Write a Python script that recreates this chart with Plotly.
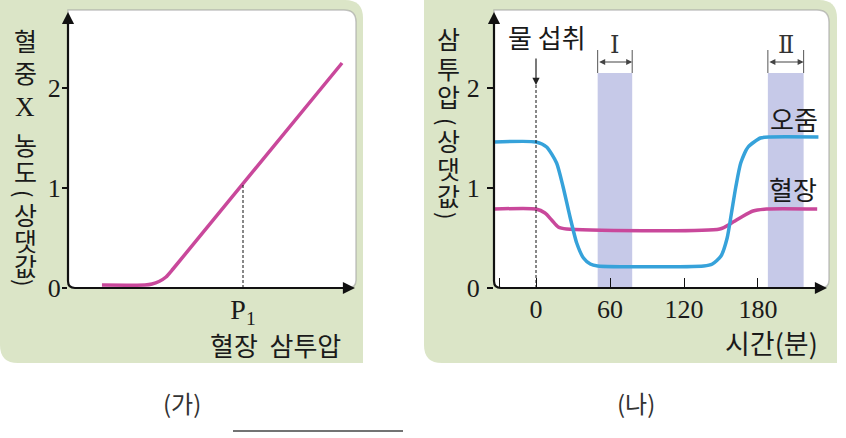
import plotly.graph_objects as go

# ---------------- data ----------------
# (가) blood X concentration vs plasma osmolality (relative units)
left_x = [0.97, 2.2, 2.4, 2.6, 2.8, 3.0, 7.83]
left_y = [0.03, 0.03, 0.04, 0.065, 0.11, 0.19, 2.25]
p1_x = 5
p1_y = 1.04
left_ytick_vals = [0, 1, 2]
left_ytick_text = ["0", "1", "2"]

# (나) osmolality vs time
urine_t = [-34, 0, 8.6, 16.7, 22, 27.6, 33, 38.5, 44, 50, 136, 143, 150, 155, 158.5, 162, 166, 172, 182, 190, 229]
urine_v = [1.46, 1.46, 1.41, 1.25, 1.01, 0.71, 0.45, 0.30, 0.24, 0.22, 0.22, 0.24, 0.32, 0.5, 0.75, 1.01, 1.25, 1.41, 1.50, 1.51, 1.51]
plasma_t = [-34, 0, 7.3, 12.7, 18, 24.8, 149, 158.6, 166.7, 176, 187, 228]
plasma_v = [0.79, 0.79, 0.75, 0.68, 0.61, 0.59, 0.59, 0.65, 0.71, 0.77, 0.79, 0.79]
band_start = [50, 188]
band_end = [78, 217]
band_top = 2.15
band_labels = ["Ⅰ", "Ⅱ"]
right_xtick_vals = [-30, 0, 60, 120, 180]
right_xtick_text = ["", "0", "60", "120", "180"]
right_ytick_vals = [0, 1, 2]
right_ytick_text = ["0", "1", "2"]
water_t = 0

# ---------------- layout helpers ----------------
W, H = 846, 438
def px(x):
    return x / W
def py(y):
    return 1 - y / H

def rrect(x0, y0, x1, y1, tl, tr, br, bl):
    def p(x, y):
        return f"{px(x):.5f},{py(y):.5f}"
    return (f"M {p(x0+tl, y0)} L {p(x1-tr, y0)} Q {p(x1, y0)} {p(x1, y0+tr)} "
            f"L {p(x1, y1-br)} Q {p(x1, y1)} {p(x1-br, y1)} L {p(x0+bl, y1)} "
            f"Q {p(x0, y1)} {p(x0, y1-bl)} L {p(x0, y0+tl)} Q {p(x0, y0)} {p(x0+tl, y0)} Z")

def axis_path(x0, ytop, y0, xend, r):
    def p(x, y):
        return f"{px(x):.5f},{py(y):.5f}"
    return f"M {p(x0, ytop)} L {p(x0, y0-r)} Q {p(x0, y0)} {p(x0+r, y0)} L {p(xend, y0)}"

GREEN = "#dbe5c7"
MAGENTA = "#c9489b"
BLUE = "#36a2da"
BAND = "#c6c9e8"
KFONT = "Noto Sans CJK KR"
SFONT = "Liberation Serif"

fig = go.Figure()

fig.add_trace(go.Scatter(x=left_x, y=left_y, mode="lines", xaxis="x", yaxis="y",
                         line=dict(color=MAGENTA, width=3.5, shape="spline", smoothing=0.5),
                         hoverinfo="skip", showlegend=False))
fig.add_trace(go.Scatter(x=plasma_t, y=plasma_v, mode="lines", xaxis="x2", yaxis="y2",
                         line=dict(color=MAGENTA, width=3.5, shape="spline", smoothing=0.6),
                         hoverinfo="skip", showlegend=False))
fig.add_trace(go.Scatter(x=urine_t, y=urine_v, mode="lines", xaxis="x2", yaxis="y2",
                         line=dict(color=BLUE, width=3.5, shape="spline", smoothing=0.6),
                         hoverinfo="skip", showlegend=False))

shapes = []
# green panels
shapes.append(dict(type="path", xref="paper", yref="paper", layer="below",
                   path=rrect(0, 0, 363, 363, 0, 18, 0, 18), fillcolor=GREEN, line=dict(width=0)))
shapes.append(dict(type="path", xref="paper", yref="paper", layer="below",
                   path=rrect(424, 0, 837, 363, 0, 18, 0, 18), fillcolor=GREEN, line=dict(width=0)))
# white plot areas (with soft shadow edge)
shapes.append(dict(type="path", xref="paper", yref="paper", layer="below",
                   path=rrect(68, 10, 356, 288, 0, 12, 8, 8), fillcolor="white",
                   line=dict(color="rgba(160,160,160,0.6)", width=1.5)))
shapes.append(dict(type="path", xref="paper", yref="paper", layer="below",
                   path=rrect(494, 10, 829, 288, 0, 12, 8, 8), fillcolor="white",
                   line=dict(color="rgba(160,160,160,0.6)", width=1.5)))
# bands
for s, e in zip(band_start, band_end):
    shapes.append(dict(type="rect", xref="x2", yref="y2", layer="below",
                       x0=s, x1=e, y0=0, y1=band_top, fillcolor=BAND, line=dict(width=0)))
    for xv in (s, e):
        shapes.append(dict(type="line", xref="x2", yref="y2", x0=xv, x1=xv,
                           y0=band_top, y1=2.38, line=dict(color="#555", width=1)))
# axes lines
shapes.append(dict(type="path", xref="paper", yref="paper",
                   path=axis_path(68, 20, 288, 346, 7), line=dict(color="#111", width=2.2)))
shapes.append(dict(type="path", xref="paper", yref="paper",
                   path=axis_path(494, 20, 288, 818, 7), line=dict(color="#111", width=2.2)))
# dashed guides
shapes.append(dict(type="line", xref="x", yref="y", x0=p1_x, x1=p1_x, y0=0, y1=p1_y,
                   line=dict(color="#111", width=1, dash="3px,2px")))
shapes.append(dict(type="line", xref="x2", yref="y2", x0=water_t, x1=water_t, y0=0, y1=2.03,
                   line=dict(color="#111", width=1, dash="3px,2px")))
# caption underline
shapes.append(dict(type="line", xref="paper", yref="paper", x0=px(233), x1=px(403),
                   y0=py(431), y1=py(431), line=dict(color="#444", width=1.5)))

ann = []
def arrow_tip(x, y, axo, ayo):
    ann.append(dict(xref="paper", yref="paper", x=px(x), y=py(y), ax=axo, ay=ayo, text="",
                    showarrow=True, arrowhead=2, arrowsize=1.1, arrowwidth=2.2, arrowcolor="#111"))
arrow_tip(68, 12, 0, 14)
arrow_tip(355, 288, -14, 0)
arrow_tip(494, 12, 0, 14)
arrow_tip(827, 288, -14, 0)

def txt(x, y, s, size=25, font=KFONT, color="#1a1a1a", xanchor="center", angle=0):
    ann.append(dict(xref="paper", yref="paper", x=px(x), y=py(y), text=s, showarrow=False,
                    xanchor=xanchor, yanchor="middle", textangle=angle,
                    font=dict(family=font, size=size, color=color)))

# left vertical y title (upright stacked characters, rotated parentheses)
left_chars = [("혈", 40), ("중", 72), ("X", 107), ("농", 144), ("도", 171), ("(", 193),
              ("상", 214), ("댓", 240), ("값", 265), (")", 282)]
for c, yy in left_chars:
    if c in "()":
        txt(25, yy, c, size=22, angle=90)
    elif c == "X":
        txt(25, yy, c, font=SFONT, size=27)
    else:
        txt(25, yy, c, size=25)
right_chars = [("삼", 38), ("투", 68), ("압", 96), ("(", 121), ("상", 140), ("댓", 168),
               ("값", 195), (")", 215)]
for c, yy in right_chars:
    if c in "()":
        txt(448, yy, c, size=22, angle=90)
    else:
        txt(448, yy, c, size=25)

txt(275, 344, "혈장  삼투압", size=26)
txt(771, 342, "시간(분)", size=27)
txt(547, 37, "물 섭취", size=26)
txt(794, 118, "오줌", size=26)
txt(793, 188, "혈장", size=26)
txt(182, 402, "(가)", size=24, color="#333")
txt(636, 402, "(나)", size=24, color="#333")

# water intake arrow
ann.append(dict(xref="x2", yref="y2", axref="x2", ayref="y2", x=water_t, y=2.03, ax=water_t, ay=2.31,
                text="", showarrow=True, arrowhead=2, arrowsize=1.2, arrowwidth=1.2, arrowcolor="#222"))
# band double arrows + labels
for s, e, lab in zip(band_start, band_end, band_labels):
    ann.append(dict(xref="x2", yref="y2", axref="x2", ayref="y2", x=e, y=2.26, ax=s, ay=2.26,
                    text="", showarrow=True, arrowhead=2, startarrowhead=2, arrowside="end+start",
                    arrowsize=1, startarrowsize=1, arrowwidth=1.2, arrowcolor="#444"))
    ann.append(dict(xref="x2", yref="y2", x=(s + e) / 2, y=2.43, text=lab, showarrow=False,
                    yanchor="middle", font=dict(family="DejaVu Serif, Liberation Serif, serif", size=24, color="#333")))

tickfont = dict(family=SFONT, size=26, color="#1a1a1a")
fig.update_layout(
    width=W, height=H, margin=dict(l=0, r=0, t=0, b=0, pad=0), autosize=False,
    paper_bgcolor="white", plot_bgcolor="rgba(0,0,0,0)",
    showlegend=False,
    xaxis=dict(domain=[px(68), px(353)], range=[0, (353 - 68) / 35], showgrid=False, zeroline=False,
               showline=False, tickvals=[p1_x], ticktext=["P<sub>1</sub>"], ticks="",
               ticklabelstandoff=2, tickfont=dict(family=SFONT, size=28, color="#1a1a1a"),
               fixedrange=True, automargin=False),
    yaxis=dict(domain=[py(288), py(10)], range=[0, 2.78], showgrid=False, zeroline=False,
               showline=False, tickvals=left_ytick_vals, ticktext=left_ytick_text, ticks="outside",
               ticklen=5, tickwidth=1.5, tickcolor="#111", ticklabelstandoff=-4,
               tickfont=tickfont, fixedrange=True, automargin=False),
    xaxis2=dict(domain=[px(494), px(827)], range=[(494 - 536) / 1.2333, (827 - 536) / 1.2333],
                anchor="y2", showgrid=False, zeroline=False, showline=False,
                tickvals=right_xtick_vals, ticktext=right_xtick_text, ticks="inside", ticklen=10,
                tickwidth=1.2, tickcolor="#111", ticklabelstandoff=3, tickfont=tickfont,
                fixedrange=True, automargin=False),
    yaxis2=dict(domain=[py(288), py(10)], range=[0, 2.78], anchor="x2", showgrid=False, zeroline=False,
                showline=False, tickvals=right_ytick_vals, ticktext=right_ytick_text, ticks="outside",
                ticklen=6, tickwidth=1.5, tickcolor="#111", ticklabelstandoff=2, tickfont=tickfont,
                fixedrange=True, automargin=False),
    shapes=shapes, annotations=ann,
)

fig.write_html("out.html", config={"displayModeBar": False},
               post_script="document.body.style.margin='0';document.body.style.padding='0';")
